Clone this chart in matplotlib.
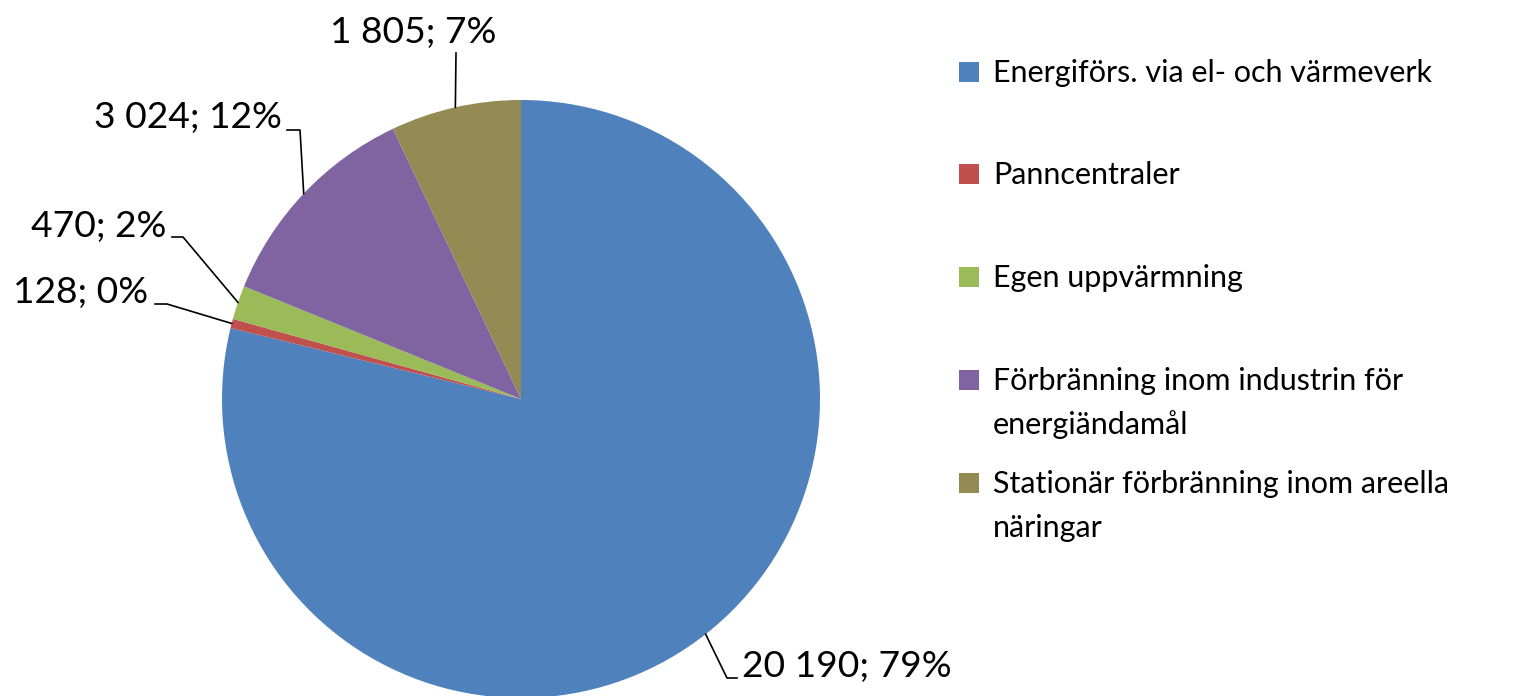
import matplotlib
matplotlib.use("Agg")
import matplotlib.pyplot as plt
import numpy as np
from matplotlib.patches import Rectangle

categories = [
    "Energiförs. via el- och värmeverk",
    "Panncentraler",
    "Egen uppvärmning",
    "Förbränning inom industrin för\nenergiändamål",
    "Stationär förbränning inom areella\nnäringar",
]
values = [20190, 128, 470, 3024, 1805]
colors = ["#4F81BD", "#C0504D", "#9BBB59", "#8064A2", "#948A54"]

W, H = 1520, 696
plt.rcParams["font.family"] = ["Lato", "DejaVu Sans"]

fig = plt.figure(figsize=(W / 100, H / 100), dpi=100)
ax = fig.add_axes([0, 0, 1, 1])


def py(y):
    # pixel y from top -> data y
    return H - y


cx, cy, r = 521, py(399), 299
wedges, _ = ax.pie(values, colors=colors, startangle=90, counterclock=False,
                   center=(cx, cy), radius=r,
                   wedgeprops=dict(linewidth=0))
ax.set_xlim(0, W)
ax.set_ylim(0, H)
ax.set_aspect("equal")
ax.axis("off")

total = sum(values)
label_fs = 26.8
legend_fs = 22

# text anchor, alignment, and leader elbow points (pixel coords, top origin)
layout = [
    dict(xy=(742, 677), ha="left", elbow=[(737, 678), (727, 678)]),
    dict(xy=(148, 303), ha="right", elbow=[(155, 304), (167, 304)]),
    dict(xy=(166, 237), ha="right", elbow=[(172, 237), (183, 237)]),
    dict(xy=(282, 128), ha="right", elbow=[(287, 130), (300, 130)]),
    dict(xy=(413, 43), ha="center", elbow=[(456, 53)]),
]

for w, v, lay in zip(wedges, values, layout):
    mid = np.deg2rad((w.theta1 + w.theta2) / 2)
    ax_pt = (cx + r * np.cos(mid), cy + r * np.sin(mid))
    pts = [(x, py(y)) for x, y in lay["elbow"]] + [ax_pt]
    ax.plot([p[0] for p in pts], [p[1] for p in pts], color="black", lw=1.2)
    pct = round(v / total * 100)
    txt = f"{v:,}".replace(",", " ") + f"; {pct}%"
    ax.text(lay["xy"][0], py(lay["xy"][1]), txt, ha=lay["ha"], va="baseline",
            fontsize=label_fs, color="black")

# legend
leg_x, sq = 959, 20
baselines = [82, 184, 287, 390, 493]
line_gap = 44
for cat, col, b in zip(categories, colors, baselines):
    ax.add_patch(Rectangle((leg_x, py(b)), sq, sq, facecolor=col, edgecolor="none"))
    for i, line in enumerate(cat.split("\n")):
        ax.text(993, py(b + i * line_gap), line, ha="left", va="baseline",
                fontsize=legend_fs, color="black")

fig.savefig("out.png", dpi=100)
